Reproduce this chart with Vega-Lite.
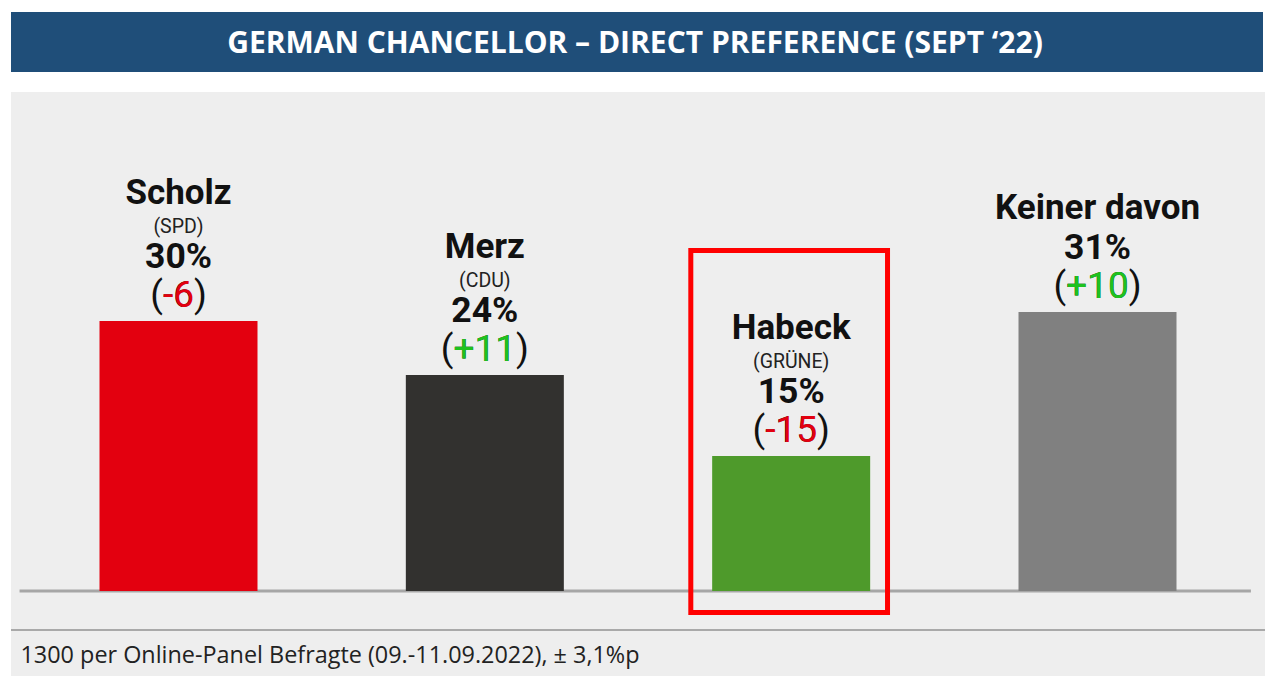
{
  "$schema": "https://vega.github.io/schema/vega-lite/v6.json",
  "padding": {"left": 10, "top": 12, "right": 0, "bottom": 0},
  "background": "white",
  "spacing": 20,
  "config": {"view": {"stroke": null}, "concat": {"spacing": 20}},
  "datasets": {
    "cands": [
      {"name": "Scholz", "party": "(SPD)", "pct": 30, "pctLabel": "30%", "chg": "-6", "chgText": "(-6)", "delta": -6},
      {"name": "Merz", "party": "(CDU)", "pct": 24, "pctLabel": "24%", "chg": "+11", "chgText": "(+11)", "delta": 11},
      {"name": "Habeck", "party": "(GRÜNE)", "pct": 15, "pctLabel": "15%", "chg": "-15", "chgText": "(-15)", "delta": -15},
      {"name": "Keiner davon", "party": "", "pct": 31, "pctLabel": "31%", "chg": "+10", "chgText": "(+10)", "delta": 10}
    ],
    "title": [{"t": "GERMAN CHANCELLOR – DIRECT PREFERENCE (SEPT ‘22)"}],
    "footer": [{"t": "1300 per Online-Panel Befragte (09.-11.09.2022), ± 3,1%p", "anchor": "Scholz", "y": -8.0}],
    "lines": [{"base": 0, "foot": -4.333, "from": "Scholz", "to": "Keiner davon"}],
    "box": [{"name": "Habeck", "top": 37.83, "bottom": -2.389}]
  },
  "vconcat": [
    {
      "width": 1252,
      "height": 60,
      "view": {"fill": "#1f4e79", "stroke": null},
      "data": {"name": "title"},
      "mark": {"type": "text", "color": "white", "font": "Open Sans", "fontWeight": "bold", "fontSize": 30, "baseline": "middle", "align": "center", "dy": 2, "dx": -2},
      "encoding": {"text": {"field": "t"}}
    },
    {
      "width": 1254,
      "height": 584,
      "view": {"fill": "#eeeeee", "stroke": null},
      "encoding": {
        "x": {"field": "name", "type": "nominal", "sort": null, "axis": null,
              "scale": {"type": "band", "domain": ["Scholz", "Merz", "Habeck", "Keiner davon"], "paddingInner": 0.4842, "paddingOuter": 0.2889}}
      },
      "layer": [
        {
          "data": {"name": "lines"},
          "mark": {"type": "rule", "color": "#a6a6a6", "strokeWidth": 3},
          "encoding": {
            "x": {"datum": "Scholz", "bandPosition": -0.506},
            "x2": {"datum": "Keiner davon", "bandPosition": 1.471},
            "y": {"field": "base", "type": "quantitative", "scale": {"domain": [-9.444, 55.444], "nice": false, "zero": false}, "axis": null}
          }
        },
        {
          "data": {"name": "lines"},
          "mark": {"type": "rule", "color": "#a9a9a9", "strokeWidth": 2},
          "encoding": {
            "x": null,
            "y": {"field": "foot", "type": "quantitative"}
          }
        },
        {
          "data": {"name": "cands"},
          "mark": {"type": "bar"},
          "encoding": {
            "y": {"field": "pct", "type": "quantitative"},
            "y2": {"datum": 0},
            "color": {"field": "name", "type": "nominal", "legend": null,
                      "scale": {"domain": ["Scholz", "Merz", "Habeck", "Keiner davon"], "range": ["#e3000f", "#32312f", "#4e9a2b", "#808080"]}}
          }
        },
        {
          "data": {"name": "box"},
          "mark": {"type": "bar", "fill": null, "fillOpacity": 0, "stroke": "#ff0000", "strokeWidth": 5, "width": {"band": 1.245}, "xOffset": -2},
          "encoding": {
            "y": {"field": "top", "type": "quantitative"},
            "y2": {"field": "bottom"}
          }
        },
        {
          "data": {"name": "cands"},
          "transform": [{"filter": "datum.party != ''"}],
          "mark": {"type": "text", "font": "Roboto", "fontWeight": "bold", "fontSize": 35, "color": "#111111", "baseline": "alphabetic", "dy": -117},
          "encoding": {"y": {"field": "pct", "type": "quantitative"}, "text": {"field": "name"}}
        },
        {
          "data": {"name": "cands"},
          "transform": [{"filter": "datum.party == ''"}],
          "mark": {"type": "text", "font": "Roboto", "fontWeight": "bold", "fontSize": 35, "color": "#111111", "baseline": "alphabetic", "dy": -93},
          "encoding": {"y": {"field": "pct", "type": "quantitative"}, "text": {"field": "name"}}
        },
        {
          "data": {"name": "cands"},
          "mark": {"type": "text", "font": "Roboto", "fontSize": 19.5, "color": "#222222", "baseline": "alphabetic", "dy": -88},
          "encoding": {"y": {"field": "pct", "type": "quantitative"}, "text": {"field": "party"}}
        },
        {
          "data": {"name": "cands"},
          "mark": {"type": "text", "font": "Roboto", "fontWeight": "bold", "fontSize": 35.5, "color": "#111111", "baseline": "alphabetic", "dy": -53},
          "encoding": {"y": {"field": "pct", "type": "quantitative"}, "text": {"field": "pctLabel"}}
        },
        {
          "data": {"name": "cands"},
          "mark": {"type": "text", "font": "Roboto", "fontWeight": 400, "fontSize": 37, "color": "#111111", "baseline": "alphabetic", "dy": -14},
          "encoding": {"y": {"field": "pct", "type": "quantitative"}, "text": {"field": "chgText"}}
        },
        {
          "data": {"name": "cands"},
          "mark": {"type": "text", "font": "Roboto", "fontWeight": 400, "fontSize": 37, "baseline": "alphabetic", "dy": -14},
          "encoding": {
            "y": {"field": "pct", "type": "quantitative"},
            "text": {"field": "chg"},
            "color": {"condition": {"test": "datum.delta < 0", "value": "#e3000f"}, "value": "#1ec21e"}
          }
        },
        {
          "data": {"name": "footer"},
          "mark": {"type": "text", "font": "Open Sans", "fontSize": 23.4, "color": "#222222", "align": "left", "baseline": "alphabetic"},
          "encoding": {
            "x": {"datum": "Scholz", "bandPosition": -0.5},
            "y": {"field": "y", "type": "quantitative"},
            "text": {"field": "t"}
          }
        }
      ]
    }
  ]
}
